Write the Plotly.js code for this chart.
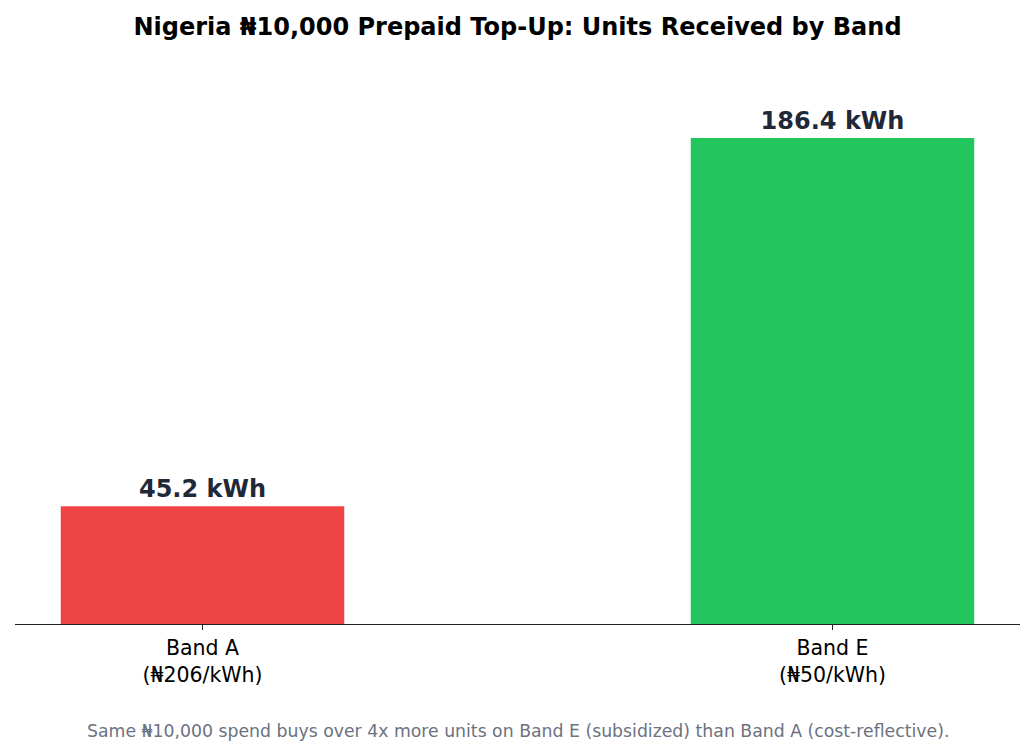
<!DOCTYPE html>
<html>
<head>
<meta charset="utf-8">
<script src="https://cdn.plot.ly/plotly-3.0.1.min.js"></script>
<style>
  html, body { margin: 0; padding: 0; background: #ffffff; }
  #barPlot_units { width: 1035px; height: 755px; }
</style>
</head>
<body>
<div id="barPlot_units"></div>
<script>
// data
let bands = ["Band A<br>(₦206/kWh)", "Band E<br>(₦50/kWh)"];
let units = [45.2, 186.4];
let unitLabels = ["45.2 kWh", "186.4 kWh"];
let barColors = ["#ef4444", "#22c55e"];

var cb_barPlot_units = function () {
  let trace1 = {
    x: [0, 1],
    y: units,
    text: unitLabels,
    textposition: "outside",
    textfont: { family: "DejaVu Sans", size: 24, color: "#1f2937", weight: "bold" },
    cliponaxis: false,
    width: 0.45,
    marker: { color: barColors },
    hoverinfo: "none",
    type: "bar",
  };

  let layout = {
    width: 1035,
    height: 755,
    margin: { l: 15, r: 15, b: 131, t: 65, pad: 0 },
    paper_bgcolor: "#ffffff",
    plot_bgcolor: "#ffffff",
    showlegend: false,
    font: { family: "DejaVu Sans", color: "#000000" },
    title: {
      text: "<b>Nigeria ₦10,000 Prepaid Top-Up: Units Received by Band</b>",
      font: { family: "DejaVu Sans", size: 24, color: "#000000" },
      x: 0.5,
      xanchor: "center",
      y: 0.965,
      yanchor: "middle",
    },
    xaxis: {
      range: [-0.2976, 1.2976],
      tickmode: "array",
      tickvals: [0, 1],
      ticktext: bands,
      ticks: "outside",
      ticklen: 5,
      tickwidth: 1.2,
      tickcolor: "#222222",
      showline: true,
      linecolor: "#222222",
      linewidth: 1.3,
      showgrid: false,
      zeroline: false,
      tickfont: { family: "DejaVu Sans", size: 20.5, color: "#000000" },
    },
    yaxis: {
      range: [0, 214.4],
      visible: false,
      showgrid: false,
      zeroline: false,
    },
    annotations: [
      {
        text: "Same ₦10,000 spend buys over 4x more units on Band E (subsidized) than Band A (cost-reflective).",
        xref: "paper",
        yref: "paper",
        x: 0.5,
        y: -0.192,
        xanchor: "center",
        yanchor: "middle",
        showarrow: false,
        font: { family: "DejaVu Sans", size: 17.3, color: "#6b7280" },
      },
    ],
  };

  let config = { staticPlot: true, displaylogo: false };

  Plotly.newPlot("barPlot_units", [trace1], layout, config);
};

cb_barPlot_units();
</script>
</body>
</html>
